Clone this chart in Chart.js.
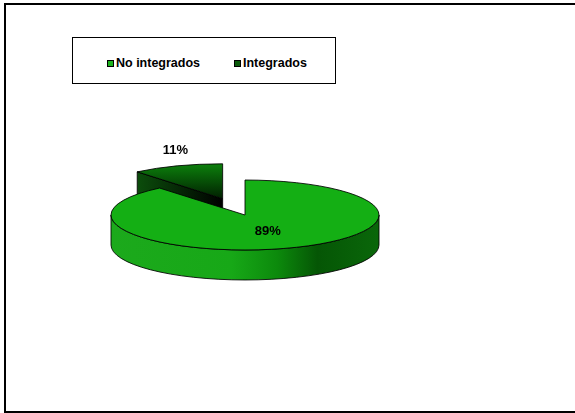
<!DOCTYPE html>
<html>
<head>
<meta charset="utf-8">
<script src="https://cdn.jsdelivr.net/npm/chart.js@4/dist/chart.umd.min.js"></script>
<style>
  html, body { margin: 0; padding: 0; background: #fff; overflow: hidden; width: 575px; height: 413px; }
  #frame { position: absolute; left: 4px; top: 3px; width: 620px; height: 406px; border: 2px solid #000; }
  #c { position: absolute; left: 0; top: 0; }
  #legend { position: absolute; left: 72px; top: 37px; width: 262px; height: 45px; border: 1px solid #000;
            font: bold 12.5px "Liberation Sans", Arial, sans-serif; color: #000; background: #fff; }
  .item { position: absolute; top: 18px; height: 14px; line-height: 14px; display: flex; align-items: center; white-space: nowrap; }
  .sw { width: 5px; height: 5px; border: 1px solid #000; margin-right: 2px; }
</style>
</head>
<body>
<div id="frame"></div>
<canvas id="c" width="575" height="413"></canvas>
<div id="legend"></div>
<script>
// Survey shares shown in the pie
const categories = ['No integrados', 'Integrados'];
const shares = [89, 11];
const sliceColors = ['#14AF14', '#0A5F0A'];

const TILT = 0.261;   // vertical squash of the pie plane
const DEPTH = 30;     // height of the extruded side in px

// HTML legend built from the category list
const legendItemsX = [34, 161];
const legend = document.getElementById('legend');
categories.forEach((name, i) => {
  const item = document.createElement('div');
  item.className = 'item';
  item.style.left = legendItemsX[i] + 'px';
  const sw = document.createElement('span');
  sw.className = 'sw';
  sw.style.background = i === 0 ? '#1DB31D' : '#0A5A0A';
  item.appendChild(sw);
  item.appendChild(document.createTextNode(name));
  legend.appendChild(item);
});

function sliceGeom(el) {
  const off = el.options.offset || 0;
  const h = (el.startAngle + el.endAngle) / 2;
  return {
    cx: el.x + off * Math.cos(h),
    cy: el.y + off * Math.sin(h) * TILT,
    r: el.outerRadius,
    ry: el.outerRadius * TILT,
    s: el.startAngle,
    e: el.endAngle,
    h
  };
}

function slicePaints(ctx, g, i) {
  if (i === 0) {
    const side = ctx.createLinearGradient(g.cx - g.r, 0, g.cx + g.r, 0);
    side.addColorStop(0, '#1CA91C');
    side.addColorStop(0.45, '#17A817');
    side.addColorStop(0.62, '#0C8A0C');
    side.addColorStop(0.77, '#055605');
    side.addColorStop(1, '#0A670A');
    return { top: '#14AF14', side };
  }
  const side = ctx.createLinearGradient(g.cx + g.r * Math.cos(g.s), 0, g.cx, 0);
  side.addColorStop(0, '#0B4D0B');
  side.addColorStop(1, '#000000');
  const top = ctx.createLinearGradient(0, g.cy - g.ry, 0, g.cy);
  top.addColorStop(0, '#0C800C');
  top.addColorStop(1, '#011F01');
  return { top, side };
}

const pie3d = {
  id: 'pie3d',
  beforeDatasetsDraw(chart) {
    const ctx = chart.ctx;
    const arcs = chart.getDatasetMeta(0).data.map((el, i) => ({ el, i, g: sliceGeom(el) }));
    // back slices first
    arcs.sort((a, b) => Math.sin(a.g.h) - Math.sin(b.g.h));
    ctx.save();
    ctx.lineWidth = 1;
    ctx.strokeStyle = 'rgba(0,0,0,0.85)';
    ctx.lineJoin = 'round';
    for (const { i, g } of arcs) {
      const paint = slicePaints(ctx, g, i);
      const rim = a => [g.cx + g.r * Math.cos(a), g.cy + g.ry * Math.sin(a)];
      // radial cut faces facing the viewer
      const faces = [];
      if (Math.cos(g.s) < -1e-6) faces.push(g.s);
      if (Math.cos(g.e) > 1e-6) faces.push(g.e);
      for (const a of faces) {
        const [px, py] = rim(a);
        ctx.beginPath();
        ctx.moveTo(g.cx, g.cy);
        ctx.lineTo(px, py);
        ctx.lineTo(px, py + DEPTH);
        ctx.lineTo(g.cx, g.cy + DEPTH);
        ctx.closePath();
        ctx.fillStyle = paint.side;
        ctx.fill();
        ctx.stroke();
      }
      // outer wall on the front half of the ellipse
      for (let n = -1; n <= 1; n++) {
        const lo = Math.max(g.s, 2 * Math.PI * n);
        const hi = Math.min(g.e, 2 * Math.PI * n + Math.PI);
        if (hi <= lo) continue;
        ctx.beginPath();
        ctx.ellipse(g.cx, g.cy, g.r, g.ry, 0, lo, hi);
        ctx.ellipse(g.cx, g.cy + DEPTH, g.r, g.ry, 0, hi, lo, true);
        ctx.closePath();
        ctx.fillStyle = paint.side;
        ctx.fill();
        ctx.stroke();
      }
      // top face
      ctx.beginPath();
      ctx.moveTo(g.cx, g.cy);
      ctx.ellipse(g.cx, g.cy, g.r, g.ry, 0, g.s, g.e);
      ctx.closePath();
      ctx.fillStyle = paint.top;
      ctx.fill();
      ctx.stroke();
    }
    ctx.restore();
    return false;
  },
  afterDraw(chart) {
    const ctx = chart.ctx;
    const data = chart.data.datasets[0].data;
    const total = data.reduce((a, b) => a + b, 0);
    ctx.save();
    ctx.font = 'bold 13px "Liberation Sans", Arial, sans-serif';
    ctx.textAlign = 'center';
    ctx.textBaseline = 'middle';
    ctx.fillStyle = '#000';
    chart.getDatasetMeta(0).data.forEach((el, i) => {
      const g = sliceGeom(el);
      const outside = el.circumference < 1.0;
      const f = outside ? 1.04 : 0.5;
      const lift = outside ? 14 : 0;
      const x = g.cx + g.r * f * Math.cos(g.h);
      const y = g.cy + g.ry * f * Math.sin(g.h) - lift;
      ctx.fillText(Math.round(data[i] / total * 100) + '%', x, y);
    });
    ctx.restore();
  }
};

new Chart(document.getElementById('c'), {
  type: 'pie',
  data: {
    labels: categories,
    datasets: [{
      data: shares,
      backgroundColor: sliceColors,
      borderWidth: 0,
      offset: [0, 66]
    }]
  },
  options: {
    responsive: false,
    animation: false,
    devicePixelRatio: 1,
    events: [],
    radius: 134,
    layout: { padding: { left: 0, right: 85, top: 17, bottom: 0 } },
    plugins: { legend: { display: false }, tooltip: { enabled: false } }
  },
  plugins: [pie3d]
});
</script>
</body>
</html>
